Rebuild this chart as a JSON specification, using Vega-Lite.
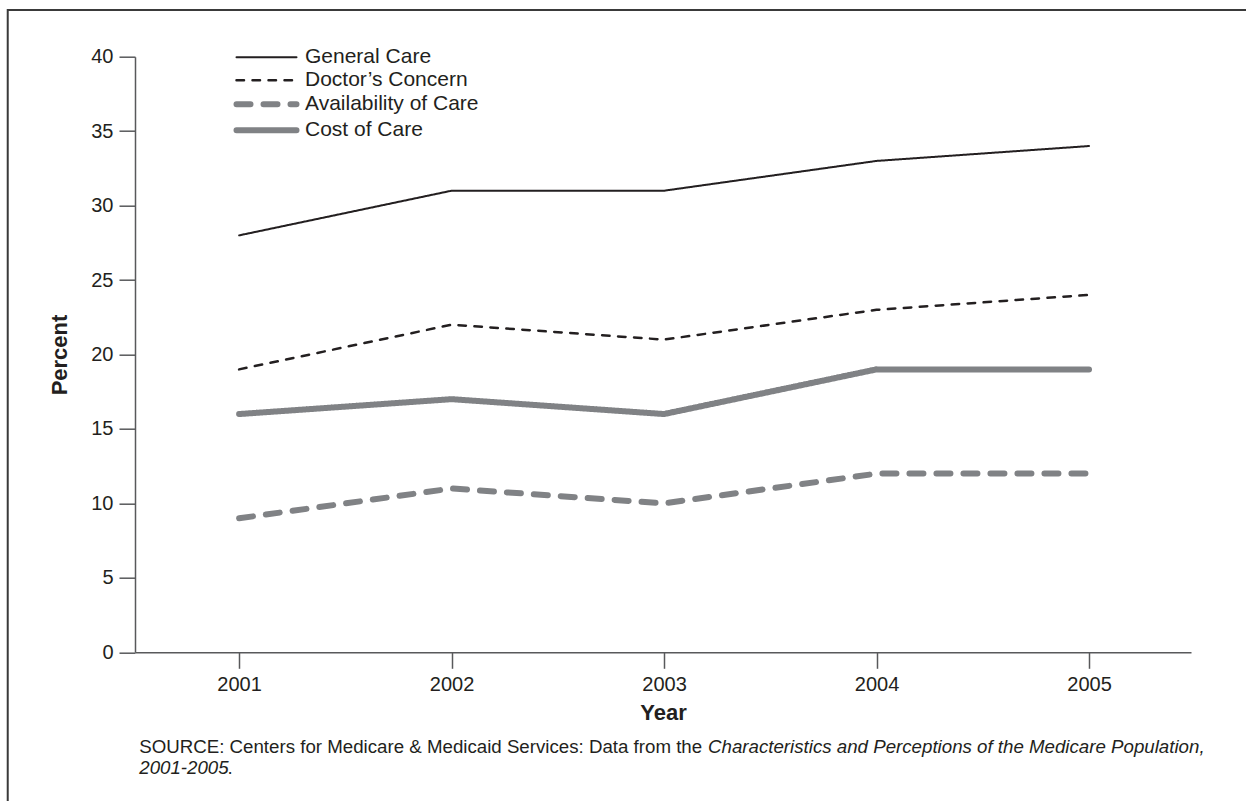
{
  "$schema": "https://vega.github.io/schema/vega-lite/v6.json",
  "width": 1056,
  "height": 595.6,
  "autosize": {"type": "none"},
  "padding": {"left": 135, "top": 56.7, "right": 55, "bottom": 148.7},
  "background": "white",
  "config": {
    "view": {"stroke": null},
    "font": "Liberation Sans",
    "axis": {
      "domainColor": "#58595b",
      "domainWidth": 1.5,
      "tickColor": "#58595b",
      "tickWidth": 1.5,
      "tickSize": 16,
      "labelFont": "Liberation Sans",
      "labelFontSize": 20,
      "labelColor": "#231f20",
      "labelPadding": 6,
      "titleFont": "Liberation Sans",
      "titleFontSize": 22,
      "titleFontWeight": "bold",
      "titleColor": "#231f20",
      "grid": false
    },
    "legend": {
      "orient": "none",
      "legendX": 121,
      "legendY": -10,
      "padding": 0,
      "symbolType": "M-6,0H6",
      "symbolSize": 100,
      "labelFont": "Liberation Sans",
      "labelFontSize": 21,
      "labelColor": "#231f20",
      "labelOffset": 28,
      "rowPadding": 1,
      "labelLimit": 400
    }
  },
  "layer": [
    {
      "data": {"values": [{"kind": "frame"}]},
      "mark": {"type": "rect", "filled": false, "stroke": "#3a3a3a", "strokeWidth": 2, "clip": false},
      "encoding": {
        "x": {"datum": 1999.911, "type": "quantitative", "scale": {"domain": [2000.51, 2005.48], "nice": false, "zero": false}},
        "x2": {"datum": 2006.2},
        "y": {"datum": 43.14, "type": "quantitative", "scale": {"domain": [0, 40], "nice": false}},
        "y2": {"datum": -14}
      }
    },
    {
      "data": {
        "values": [
          {"year": 2001, "series": "General Care", "value": 28},
          {"year": 2002, "series": "General Care", "value": 31},
          {"year": 2003, "series": "General Care", "value": 31},
          {"year": 2004, "series": "General Care", "value": 33},
          {"year": 2005, "series": "General Care", "value": 34},
          {"year": 2001, "series": "Doctor’s Concern", "value": 19},
          {"year": 2002, "series": "Doctor’s Concern", "value": 22},
          {"year": 2003, "series": "Doctor’s Concern", "value": 21},
          {"year": 2004, "series": "Doctor’s Concern", "value": 23},
          {"year": 2005, "series": "Doctor’s Concern", "value": 24},
          {"year": 2001, "series": "Availability of Care", "value": 9},
          {"year": 2002, "series": "Availability of Care", "value": 11},
          {"year": 2003, "series": "Availability of Care", "value": 10},
          {"year": 2004, "series": "Availability of Care", "value": 12},
          {"year": 2005, "series": "Availability of Care", "value": 12},
          {"year": 2001, "series": "Cost of Care", "value": 16},
          {"year": 2002, "series": "Cost of Care", "value": 17},
          {"year": 2003, "series": "Cost of Care", "value": 16},
          {"year": 2004, "series": "Cost of Care", "value": 19},
          {"year": 2005, "series": "Cost of Care", "value": 19}
        ]
      },
      "mark": {"type": "line", "strokeCap": "round", "strokeJoin": "round"},
      "encoding": {
        "x": {
          "field": "year",
          "type": "quantitative",
          "scale": {"domain": [2000.51, 2005.48], "nice": false, "zero": false},
          "axis": {"values": [2001, 2002, 2003, 2004, 2005], "format": "d", "title": "Year", "titlePadding": 8}
        },
        "y": {
          "field": "value",
          "type": "quantitative",
          "scale": {"domain": [0, 40], "nice": false},
          "axis": {"values": [0, 5, 10, 15, 20, 25, 30, 35, 40], "title": "Percent", "titlePadding": 19.5}
        },
        "color": {
          "field": "series",
          "type": "nominal",
          "scale": {
            "domain": ["General Care", "Doctor’s Concern", "Availability of Care", "Cost of Care"],
            "range": ["#231f20", "#231f20", "#808285", "#808285"]
          },
          "legend": {
            "title": null,
            "encode": {
              "symbols": {
                "update": {
                  "strokeWidth": {"signal": "(datum.value == 'Availability of Care' || datum.value == 'Cost of Care') ? 6 : (datum.value == 'General Care' ? 2 : 2.5)"},
                  "strokeCap": {"value": "round"}
                }
              }
            }
          }
        },
        "strokeDash": {
          "field": "series",
          "type": "nominal",
          "scale": {
            "domain": ["General Care", "Doctor’s Concern", "Availability of Care", "Cost of Care"],
            "range": [[1, 0], [7.5, 8.5], [14, 13], [1, 0]]
          },
          "legend": {"title": null}
        },
        "strokeWidth": {
          "condition": [
            {"test": "datum.series == 'Availability of Care' || datum.series == 'Cost of Care'", "value": 6},
            {"test": "datum.series == 'General Care'", "value": 2}
          ],
          "value": 2.5
        }
      }
    },
    {
      "data": {"values": [{"text": "SOURCE: Centers for Medicare & Medicaid Services: Data from the"}]},
      "mark": {"type": "text", "align": "left", "baseline": "alphabetic", "fontSize": 18.7, "color": "#231f20", "font": "Liberation Sans", "clip": false},
      "encoding": {
        "x": {"datum": 2000.53, "type": "quantitative"},
        "y": {"datum": -6.77, "type": "quantitative"},
        "text": {"field": "text"}
      }
    },
    {
      "data": {"values": [{"text": "Characteristics and Perceptions of the Medicare Population,"}]},
      "mark": {"type": "text", "align": "left", "baseline": "alphabetic", "fontSize": 18.7, "fontStyle": "italic", "color": "#231f20", "font": "Liberation Sans", "clip": false},
      "encoding": {
        "x": {"datum": 2003.207, "type": "quantitative"},
        "y": {"datum": -6.77, "type": "quantitative"},
        "text": {"field": "text"}
      }
    },
    {
      "data": {"values": [{"text": "2001-2005"}]},
      "mark": {"type": "text", "align": "left", "baseline": "alphabetic", "fontSize": 18.7, "fontStyle": "italic", "color": "#231f20", "font": "Liberation Sans", "clip": false},
      "encoding": {
        "x": {"datum": 2000.53, "type": "quantitative"},
        "y": {"datum": -8.17, "type": "quantitative"},
        "text": {"field": "text"}
      }
    },
    {
      "data": {"values": [{"text": "."}]},
      "mark": {"type": "text", "align": "left", "baseline": "alphabetic", "fontSize": 18.7, "color": "#231f20", "font": "Liberation Sans", "clip": false},
      "encoding": {
        "x": {"datum": 2000.945, "type": "quantitative"},
        "y": {"datum": -8.17, "type": "quantitative"},
        "text": {"field": "text"}
      }
    }
  ]
}
